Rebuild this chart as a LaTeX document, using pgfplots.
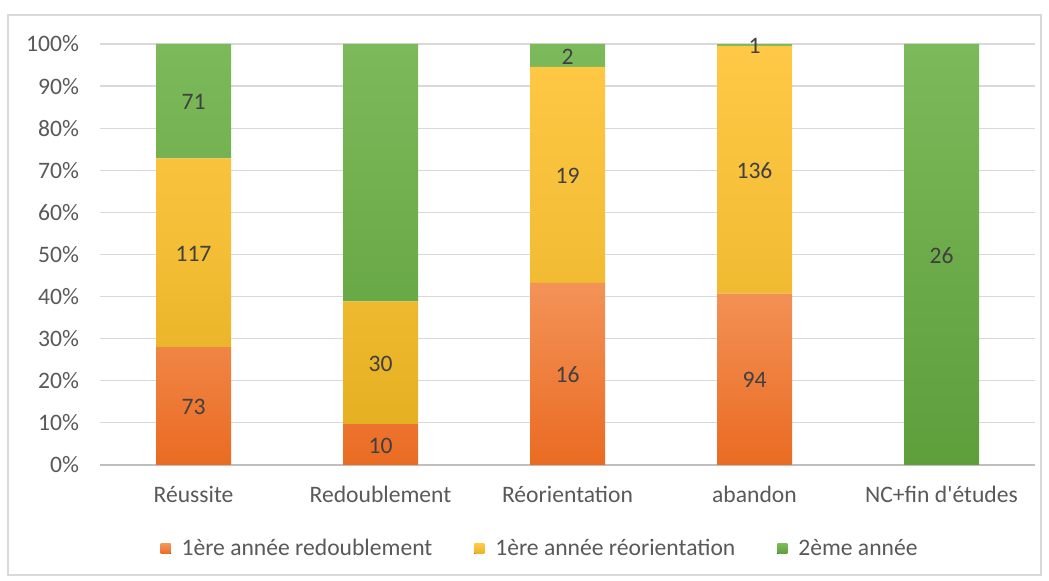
\documentclass[border=0pt]{standalone}
\usepackage{pgfplots}
\pgfplotsset{compat=1.18}
\usepackage{fontspec}
\setmainfont{Carlito}
\definecolor{txt}{HTML}{595959}
\definecolor{lab}{HTML}{404040}
\definecolor{gridc}{HTML}{D9D9D9}
\definecolor{axc}{HTML}{BFBFBF}
\definecolor{orT}{HTML}{F39358}
\definecolor{orB}{HTML}{EA6B22}
\definecolor{yeT}{HTML}{FFC846}
\definecolor{yeB}{HTML}{E5B021}
\definecolor{grT}{HTML}{7CB95A}
\definecolor{grB}{HTML}{5E9E3B}
\begin{document}
\begin{tikzpicture}
\useasboundingbox (0,0) rectangle (524.5pt,290.5pt);
\draw[draw=gridc, line width=0.6pt] (4pt,3pt) rectangle (520.5pt,283pt);
\begin{axis}[
  at={(50pt,58pt)}, anchor=south west,
  width=467.5pt, height=210.5pt, scale only axis,
  xmin=-0.5, xmax=4.5, ymin=0, ymax=100,
  ybar stacked, bar width=37.5pt,
  xtick={0,1,2,3,4},
  xticklabels={Réussite, Redoublement, Réorientation, abandon, NC+fin d\textquotesingle études},
  ytick={0,10,...,100},
  /pgf/number format/assume math mode=true,
  yticklabel={\pgfmathprintnumber{\tick}\%},
  ymajorgrids, grid style={draw=gridc, line width=0.6pt},
  axis x line*=bottom, axis y line*=left,
  y axis line style={draw=none},
  x axis line style={draw=axc, line width=0.6pt},
  major tick length=0pt, tick style={draw=none},
  tick label style={font=\fontsize{11.8}{13}\selectfont, text=txt},
  yticklabel style={anchor=east, xshift=-7pt},
  xticklabel style={anchor=north, yshift=-7pt},
  point meta=explicit symbolic,
  nodes near coords,
  every node near coord/.append style={font=\fontsize{11.8}{13}\selectfont, text=lab, yshift=-0.5pt},
  legend columns=3,
  legend style={draw=none, at={(0.4717,-0.1995)}, anchor=center,
    font=\fontsize{11.8}{13}\selectfont, text=txt,
    /tikz/every even column/.append style={column sep=19pt}},
  legend image code/.code={\fill[#1] (0pt,-2.5pt) rectangle (5pt,2.5pt); \path (8.5pt,0pt);},
]
\addplot[draw=none, top color=orT, bottom color=orB] coordinates {
  (0,27.97) [73] (1,9.71) [10] (2,43.24) [16] (3,40.69) [94] (4,0) [{}]};
\addplot[draw=none, top color=yeT, bottom color=yeB, middle color=yeT!60!yeB] coordinates {
  (0,44.83) [117] (1,29.13) [30] (2,51.35) [19] (3,58.87) [136] (4,0) [{}]};
\addplot[draw=none, top color=grT, bottom color=grB] coordinates {
  (0,27.20) [71] (1,61.17) [63] (2,5.41) [2] (3,0.43) [1] (4,100) [26]};
\legend{1ère année redoublement, 1ère année réorientation, 2ème année}
\end{axis}
\end{tikzpicture}
\end{document}
